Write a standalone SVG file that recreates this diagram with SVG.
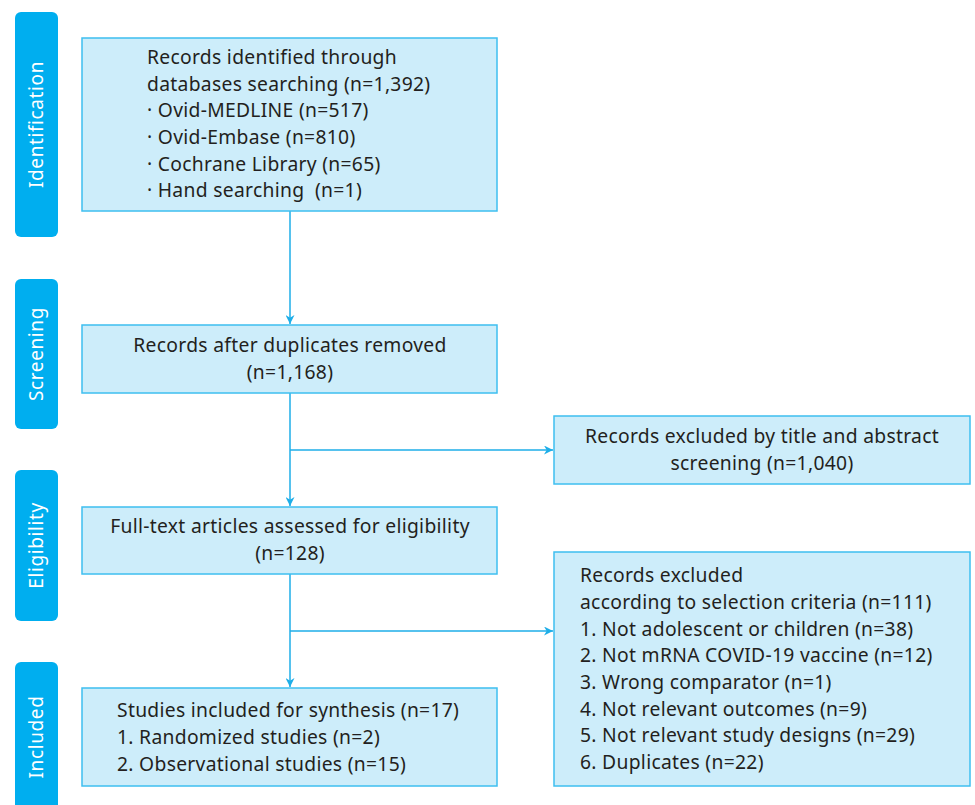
<svg xmlns="http://www.w3.org/2000/svg" width="975" height="805" viewBox="0 0 975 805">
<defs>
<style>
.bar{fill:#00AEEF;}
.side{fill:#ffffff;font-family:"Noto Sans","Liberation Sans",sans-serif;font-size:19px;text-anchor:middle;letter-spacing:0.6px;}
.box{fill:#CDEDFA;stroke:#3EBFF0;stroke-width:1.5;}
.t{fill:#231F20;font-family:"Noto Sans","Liberation Sans",sans-serif;font-size:19.3px;letter-spacing:0.3px;white-space:pre;}
.c{text-anchor:middle;}
.ln{stroke:#1EAEE8;stroke-width:1.5;fill:none;}
</style>
<marker id="ah" viewBox="0 0 10 10" refX="10" refY="5" markerWidth="9" markerHeight="9" markerUnits="userSpaceOnUse" orient="auto">
<path d="M0,0 L10,5 L0,10 L3,5 Z" fill="#1EAEE8"/>
</marker>
</defs>
<rect width="975" height="805" fill="#ffffff"/>

<g id="stage-identification">
<rect class="bar" x="15" y="12" width="43" height="225" rx="6"/>
<text class="side" transform="translate(43,124.5) rotate(-90)">Identification</text>
</g>
<g id="stage-screening">
<rect class="bar" x="15" y="279" width="43" height="150" rx="6"/>
<text class="side" transform="translate(43,354) rotate(-90)">Screening</text>
</g>
<g id="stage-eligibility">
<rect class="bar" x="15" y="470" width="43" height="151" rx="6"/>
<text class="side" transform="translate(43,545.5) rotate(-90)">Eligibility</text>
</g>
<g id="stage-included">
<rect class="bar" x="15" y="662" width="43" height="150" rx="6"/>
<text class="side" transform="translate(43,737) rotate(-90)">Included</text>
</g>

<g id="connectors">
<line class="ln" x1="290" y1="211" x2="290" y2="324" marker-end="url(#ah)"/>
<line class="ln" x1="290" y1="393" x2="290" y2="506" marker-end="url(#ah)"/>
<line class="ln" x1="290" y1="450" x2="553" y2="450" marker-end="url(#ah)"/>
<line class="ln" x1="290" y1="574" x2="290" y2="687" marker-end="url(#ah)"/>
<line class="ln" x1="290" y1="631" x2="553" y2="631" marker-end="url(#ah)"/>
</g>

<g id="identified">
<rect class="box" x="82" y="38" width="415" height="173"/>
<text class="t" x="147" y="64">Records identified through</text>
<text class="t" x="147" y="91">databases searching (n=1,392)</text>
<text class="t" x="147" y="117">· Ovid-MEDLINE (n=517)</text>
<text class="t" x="147" y="144">· Ovid-Embase (n=810)</text>
<text class="t" x="147" y="171">· Cochrane Library (n=65)</text>
<text class="t" x="147" y="197" xml:space="preserve">· Hand searching  (n=1)</text>
</g>

<g id="deduplicated">
<rect class="box" x="82" y="325" width="415" height="68"/>
<text class="t c" x="290" y="352">Records after duplicates removed</text>
<text class="t c" x="290" y="379">(n=1,168)</text>
</g>

<g id="excluded-title">
<rect class="box" x="554" y="416" width="416" height="68"/>
<text class="t c" x="762" y="443">Records excluded by title and abstract</text>
<text class="t c" x="762" y="470">screening (n=1,040)</text>
</g>

<g id="fulltext">
<rect class="box" x="82" y="507" width="415" height="67"/>
<text class="t c" x="290" y="533">Full-text articles assessed for eligibility</text>
<text class="t c" x="290" y="560">(n=128)</text>
</g>

<g id="excluded-criteria">
<rect class="box" x="554" y="552" width="416" height="234"/>
<text class="t" x="580" y="582">Records excluded</text>
<text class="t" x="580" y="609">according to selection criteria (n=111)</text>
<text class="t" x="580" y="636">1. Not adolescent or children (n=38)</text>
<text class="t" x="580" y="662">2. Not mRNA COVID-19 vaccine (n=12)</text>
<text class="t" x="580" y="689">3. Wrong comparator (n=1)</text>
<text class="t" x="580" y="716">4. Not relevant outcomes (n=9)</text>
<text class="t" x="580" y="742">5. Not relevant study designs (n=29)</text>
<text class="t" x="580" y="769">6. Duplicates (n=22)</text>
</g>

<g id="included">
<rect class="box" x="82" y="688" width="415" height="98"/>
<text class="t" x="117" y="717">Studies included for synthesis (n=17)</text>
<text class="t" x="117" y="744">1. Randomized studies (n=2)</text>
<text class="t" x="117" y="771">2. Observational studies (n=15)</text>
</g>
</svg>
